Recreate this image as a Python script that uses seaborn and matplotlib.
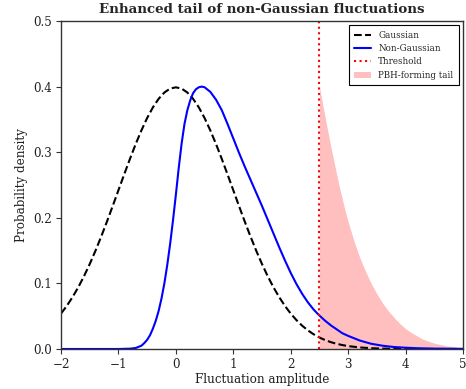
import numpy as np
import pandas as pd
import matplotlib
matplotlib.use("Agg")
import matplotlib.pyplot as plt
import seaborn as sns

# Gaussian curve
gauss_x = [-2.0, -1.9, -1.8, -1.7, -1.6, -1.5, -1.4, -1.3, -1.2, -1.1, -1.0, -0.9, -0.8,
           -0.7, -0.6, -0.5, -0.4, -0.3, -0.2, -0.1, 0.0, 0.1, 0.2, 0.3, 0.4, 0.5, 0.6,
           0.7, 0.8, 0.9, 1.0, 1.1, 1.2, 1.3, 1.4, 1.5, 1.6, 1.7, 1.8, 1.9, 2.0, 2.1, 2.2,
           2.3, 2.4, 2.5, 2.6, 2.7, 2.8, 2.9, 3.0, 3.2, 3.4, 3.6, 3.8, 4.0, 4.5, 5.0]
gauss_y = [0.0540, 0.0656, 0.0790, 0.0940, 0.1109, 0.1295, 0.1497, 0.1714, 0.1942, 0.2179,
           0.2420, 0.2661, 0.2897, 0.3123, 0.3332, 0.3521, 0.3683, 0.3814, 0.3910, 0.3970,
           0.3989, 0.3970, 0.3910, 0.3814, 0.3683, 0.3521, 0.3332, 0.3123, 0.2897, 0.2661,
           0.2420, 0.2179, 0.1942, 0.1714, 0.1497, 0.1295, 0.1109, 0.0940, 0.0790, 0.0656,
           0.0540, 0.0440, 0.0355, 0.0283, 0.0224, 0.0175, 0.0136, 0.0104, 0.0079, 0.0060,
           0.0044, 0.0024, 0.0012, 0.0006, 0.0003, 0.0001, 0.0, 0.0]

# Non-Gaussian curve
ng_x = [-2.0, -1.0, -0.8, -0.7, -0.6, -0.55, -0.5, -0.45, -0.4, -0.35, -0.3, -0.25, -0.2,
        -0.15, -0.1, -0.05, 0.0, 0.05, 0.1, 0.15, 0.2, 0.25, 0.3, 0.35, 0.4, 0.45, 0.5,
        0.6, 0.7, 0.8, 0.9, 1.0, 1.1, 1.2, 1.3, 1.4, 1.5, 1.6, 1.7, 1.8, 1.9, 2.0, 2.1,
        2.2, 2.3, 2.4, 2.5, 2.6, 2.7, 2.8, 2.9, 3.0, 3.2, 3.4, 3.6, 3.8, 4.0, 4.2, 4.5, 5.0]
ng_y = [0.0, 0.0, 0.0005, 0.0015, 0.005, 0.009, 0.014, 0.021, 0.031, 0.043, 0.058, 0.077,
        0.100, 0.128, 0.160, 0.196, 0.235, 0.276, 0.313, 0.343, 0.364, 0.379, 0.390, 0.396,
        0.399, 0.400, 0.399, 0.392, 0.380, 0.364, 0.343, 0.321, 0.299, 0.278, 0.258, 0.238,
        0.218, 0.197, 0.176, 0.155, 0.135, 0.116, 0.099, 0.084, 0.071, 0.060, 0.051, 0.043,
        0.036, 0.030, 0.024, 0.020, 0.013, 0.008, 0.005, 0.003, 0.002, 0.0012, 0.0006,
        0.0002]

# PBH-forming tail
tail_x = [2.5, 2.55, 2.6, 2.65, 2.7, 2.75, 2.8, 2.85, 2.9, 2.95, 3.0, 3.1, 3.2, 3.3, 3.4,
          3.5, 3.6, 3.7, 3.8, 3.9, 4.0, 4.1, 4.2, 4.3, 4.4, 4.5, 4.6, 4.7, 4.8, 4.9, 5.0]
tail_y = [0.400, 0.376, 0.353, 0.330, 0.308, 0.287, 0.266, 0.246, 0.228, 0.210, 0.194,
          0.165, 0.140, 0.119, 0.100, 0.084, 0.070, 0.058, 0.048, 0.039, 0.031, 0.025,
          0.020, 0.015, 0.012, 0.009, 0.007, 0.005, 0.004, 0.003, 0.002]

threshold = 2.5

sns.set_style("ticks")
plt.rcParams['font.family'] = ['DejaVu Serif']

fig, ax = plt.subplots(figsize=(4.66, 3.89), dpi=100)
fig.subplots_adjust(left=61/466, right=463/466, top=1-21/389, bottom=1-349/389)

sns.lineplot(x=gauss_x, y=gauss_y, ax=ax, color='black', linestyle='--', linewidth=1.5,
             label='Gaussian')
sns.lineplot(x=ng_x, y=ng_y, ax=ax, color='blue', linewidth=1.5, label='Non-Gaussian')
ax.axvline(threshold, color='red', linestyle=':', linewidth=1.5, label='Threshold')
ax.fill_between(tail_x, 0, tail_y, color='red', alpha=0.25, linewidth=0,
                label='PBH-forming tail')

ax.set_xlim(-2, 5)
ax.set_ylim(0, 0.5)
ax.set_xticks([-2, -1, 0, 1, 2, 3, 4, 5])
ax.set_yticks([0.0, 0.1, 0.2, 0.3, 0.4, 0.5])
ax.tick_params(labelsize=8.6, length=3.5, width=0.8, color='#333333', labelcolor='#222222',
               pad=3)
for s in ax.spines.values():
    s.set_color('#333333')
    s.set_linewidth(1.0)

ax.set_xlabel('Fluctuation amplitude', fontsize=8.6, color='#222222', labelpad=1.5)
ax.set_ylabel('Probability density', fontsize=8.6, color='#222222', labelpad=4)
ax.set_title('Enhanced tail of non-Gaussian fluctuations', fontsize=9.6, fontweight='bold')

leg = ax.legend(loc='upper right', fontsize=6.3, fancybox=False, edgecolor='black',
                framealpha=1, borderpad=0.6)
leg.get_frame().set_linewidth(0.8)

fig.savefig('out.png', dpi=100)
